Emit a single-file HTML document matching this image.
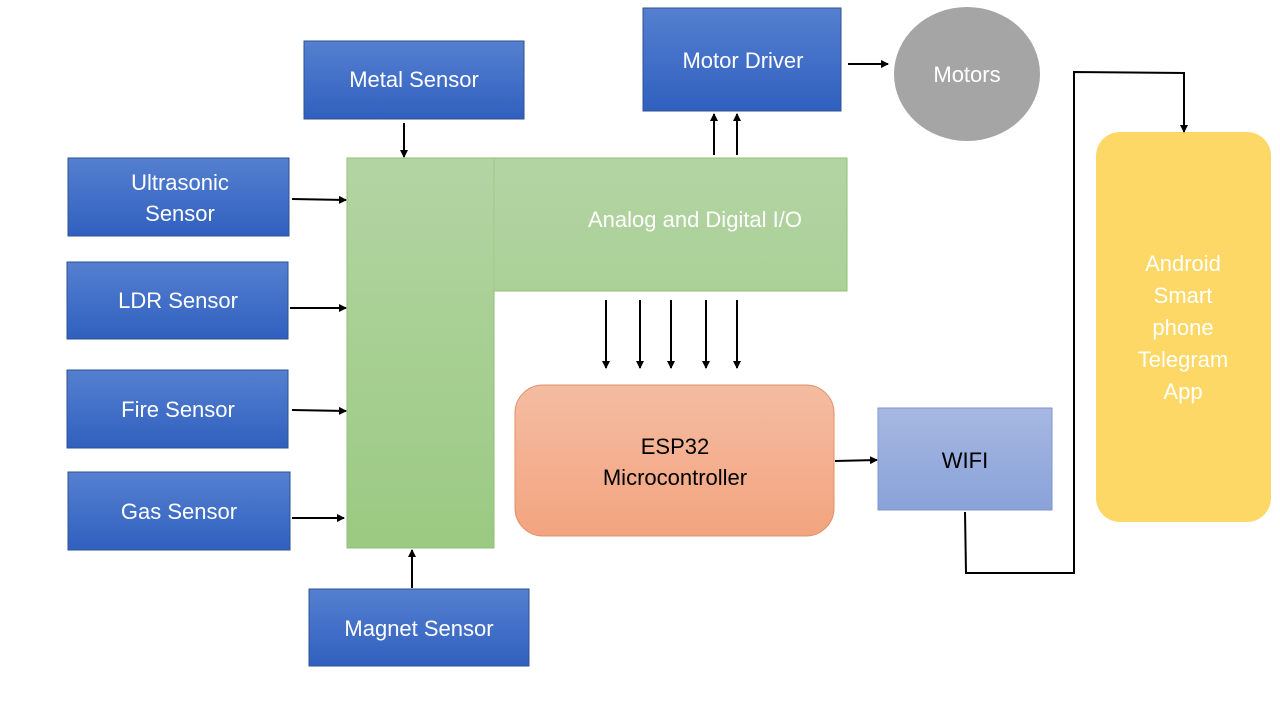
<!DOCTYPE html>
<html><head><meta charset="utf-8"><style>
html,body{margin:0;padding:0;background:#fff;}
svg{display:block;font-family:"Liberation Sans",sans-serif;}
</style></head><body>
<svg width="1280" height="720" viewBox="0 0 1280 720" xmlns="http://www.w3.org/2000/svg">
<defs>
<linearGradient id="bl" x1="0" y1="0" x2="0" y2="1"><stop offset="0" stop-color="#5580d0"/><stop offset="1" stop-color="#3060bf"/></linearGradient>
<linearGradient id="gr" x1="0" y1="0" x2="0" y2="1"><stop offset="0" stop-color="#b3d4a3"/><stop offset="1" stop-color="#9bca82"/></linearGradient>
<linearGradient id="or" x1="0" y1="0" x2="0" y2="1"><stop offset="0" stop-color="#f4bca2"/><stop offset="1" stop-color="#f3a47f"/></linearGradient>
<linearGradient id="wf" x1="0" y1="0" x2="0" y2="1"><stop offset="0" stop-color="#a7b8e2"/><stop offset="1" stop-color="#89a2d9"/></linearGradient>
<marker id="a" markerWidth="8" markerHeight="8" refX="7" refY="4" orient="auto" markerUnits="userSpaceOnUse"><path d="M0,0 L8,4 L0,8 z" fill="#000"/></marker>
</defs>
<g fill="url(#bl)" stroke="#2f528f" stroke-width="1">
<rect x="304" y="41" width="220" height="78"/>
<rect x="68" y="158" width="221" height="78"/>
<rect x="67" y="262" width="221" height="77"/>
<rect x="67" y="370" width="221" height="78"/>
<rect x="68" y="472" width="222" height="78"/>
<rect x="309" y="589" width="220" height="77"/>
<rect x="643" y="8" width="198" height="103"/>
</g>
<g fill="#fff" font-size="22" text-anchor="middle">
<text x="414" y="87">Metal Sensor</text>
<text x="180" y="190">Ultrasonic</text>
<text x="180" y="221">Sensor</text>
<text x="178" y="308">LDR Sensor</text>
<text x="178" y="417">Fire Sensor</text>
<text x="179" y="519">Gas Sensor</text>
<text x="419" y="636">Magnet Sensor</text>
<text x="743" y="68">Motor Driver</text>
</g>
<path d="M347,158 H847 V291 H494 V548 H347 Z" fill="url(#gr)" stroke="#8fbf75" stroke-width="1"/>
<line x1="494" y1="158" x2="494" y2="291" stroke="#9fca8a" stroke-width="1"/>
<text x="695" y="227" fill="#fff" font-size="22" text-anchor="middle">Analog and Digital I/O</text>
<ellipse cx="967" cy="74" rx="73" ry="67" fill="#a5a5a5"/>
<text x="967" y="82" fill="#fff" font-size="22" text-anchor="middle">Motors</text>
<rect x="515" y="385" width="319" height="151" rx="28" fill="url(#or)" stroke="#e0906a"/>
<g font-size="22" text-anchor="middle" fill="#000">
<text x="675" y="454">ESP32</text>
<text x="675" y="485">Microcontroller</text>
</g>
<rect x="878" y="408" width="174" height="102" fill="url(#wf)" stroke="#7f96cc"/>
<text x="965" y="468" font-size="22" text-anchor="middle">WIFI</text>
<rect x="1096" y="132" width="175" height="390" rx="24" fill="#fdd866"/>
<g fill="#fff" font-size="22" text-anchor="middle">
<text x="1183" y="271">Android</text>
<text x="1183" y="303">Smart</text>
<text x="1183" y="335">phone</text>
<text x="1183" y="367">Telegram</text>
<text x="1183" y="399">App</text>
</g>
<g stroke="#000" stroke-width="2" fill="none" marker-end="url(#a)">
<line x1="404" y1="123" x2="404" y2="157"/>
<line x1="292" y1="199" x2="346" y2="200"/>
<line x1="290" y1="308" x2="346" y2="308"/>
<line x1="292" y1="410" x2="346" y2="411"/>
<line x1="292" y1="518" x2="344" y2="518"/>
<line x1="412" y1="588" x2="412" y2="550"/>
<line x1="714" y1="155" x2="714" y2="114"/>
<line x1="737" y1="155" x2="737" y2="114"/>
<line x1="848" y1="64" x2="888" y2="64"/>
<line x1="606" y1="300" x2="606" y2="368"/>
<line x1="640" y1="300" x2="640" y2="368"/>
<line x1="671" y1="300" x2="671" y2="368"/>
<line x1="706" y1="300" x2="706" y2="368"/>
<line x1="737" y1="300" x2="737" y2="368"/>
<line x1="835" y1="461" x2="877" y2="460"/>
<path d="M965,512 L966,573 L1074,573 L1074,72 L1184,73 L1184,132"/>
</g>
</svg>
</body></html>
